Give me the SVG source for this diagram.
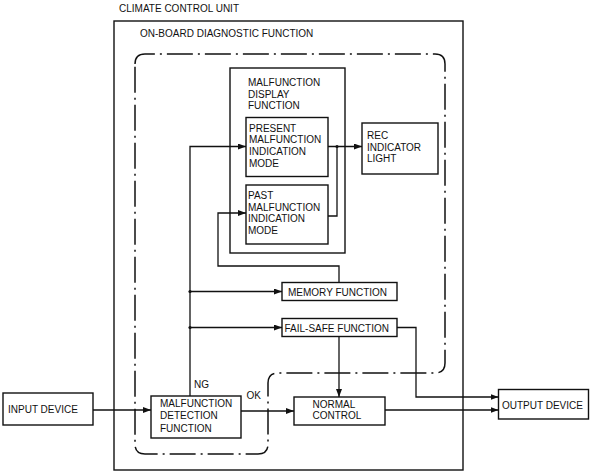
<svg xmlns="http://www.w3.org/2000/svg" width="591" height="474" viewBox="0 0 591 474">
<style>
text{font-family:"Liberation Sans",Arial,sans-serif;font-size:10px;fill:#111}
.box{fill:#fff;stroke:#111;stroke-width:1.4}
.ln{fill:none;stroke:#111;stroke-width:1.3}
.dd{fill:none;stroke:#111;stroke-width:1.5;stroke-dasharray:26 5 2 5}
</style>
<defs>
<marker id="ah" viewBox="0 0 8 6" refX="8" refY="3" markerWidth="8" markerHeight="6" markerUnits="userSpaceOnUse" orient="auto">
<path d="M0,0 L8,3 L0,6 Z" fill="#111"/>
</marker>
</defs>
<rect width="591" height="474" fill="#fff"/>
<g id="unit">
<rect class="box" x="114" y="21" width="349" height="449" fill="none"/>
<text x="119" y="12">CLIMATE CONTROL UNIT</text>
</g>
<g id="obd">
<text x="140" y="36.5">ON-BOARD DIAGNOSTIC FUNCTION</text>
<path class="dd" d="M135,64 Q135,54 145,54 H435 Q445,54 445,64 V363 Q445,373 435,373 H278 Q268,373 268,383 V444 Q268,454 258,454 H145 Q135,454 135,444 Z"/>
</g>
<g id="display">
<rect class="box" x="230" y="68" width="115" height="185"/>
<text x="248" y="86">MALFUNCTION</text>
<text x="248" y="97.7">DISPLAY</text>
<text x="248" y="109.4">FUNCTION</text>
</g>
<g id="present">
<rect class="box" x="246" y="117.5" width="82" height="59"/>
<text x="249" y="131.5">PRESENT</text>
<text x="249" y="143.2">MALFUNCTION</text>
<text x="249" y="154.9">INDICATION</text>
<text x="249" y="166.6">MODE</text>
</g>
<g id="past">
<rect class="box" x="246" y="185" width="82" height="59"/>
<text x="248" y="199">PAST</text>
<text x="248" y="210.7">MALFUNCTION</text>
<text x="248" y="222.4">INDICATION</text>
<text x="248" y="234.1">MODE</text>
</g>
<g id="rec">
<rect class="box" x="362" y="123" width="76" height="51"/>
<text x="367" y="139">REC</text>
<text x="367" y="150.7">INDICATOR</text>
<text x="367" y="162.4">LIGHT</text>
</g>
<g id="memory">
<rect class="box" x="282" y="282.5" width="115" height="18"/>
<text x="288" y="295.5">MEMORY FUNCTION</text>
</g>
<g id="failsafe">
<rect class="box" x="282" y="318.5" width="115" height="18"/>
<text x="284.5" y="331.5">FAIL-SAFE FUNCTION</text>
</g>
<g id="detection">
<rect class="box" x="151" y="396" width="90" height="42"/>
<text x="160" y="407.3">MALFUNCTION</text>
<text x="160" y="419.3">DETECTION</text>
<text x="160" y="431.5">FUNCTION</text>
</g>
<g id="normal">
<rect class="box" x="294" y="397" width="91" height="28"/>
<text x="312.5" y="407.5">NORMAL</text>
<text x="312.5" y="419.3">CONTROL</text>
</g>
<g id="input">
<rect class="box" x="3" y="393" width="90" height="32"/>
<text x="8" y="413">INPUT DEVICE</text>
</g>
<g id="output">
<rect class="box" x="498.5" y="389.5" width="90" height="29.5"/>
<text x="502" y="409">OUTPUT DEVICE</text>
</g>
<g id="connectors">
<path class="ln" d="M93,410 H151" marker-end="url(#ah)"/>
<path class="ln" d="M190,396 V146.5 H246" marker-end="url(#ah)"/>
<path class="ln" d="M190,291.5 H282" marker-end="url(#ah)"/>
<path class="ln" d="M190,327.5 H282" marker-end="url(#ah)"/>
<circle cx="190" cy="291.5" r="1.6" fill="#111"/>
<circle cx="190" cy="327.5" r="1.6" fill="#111"/>
<path class="ln" d="M339,282.5 V266 H218 V213 H246" marker-end="url(#ah)"/>
<path class="ln" d="M328,146.5 H362" marker-end="url(#ah)"/>
<path class="ln" d="M328,216 H337 V146.5"/>
<circle cx="337" cy="146.5" r="1.6" fill="#111"/>
<path class="ln" d="M339,336.5 V397" marker-end="url(#ah)"/>
<path class="ln" d="M241,411 H294" marker-end="url(#ah)"/>
<path class="ln" d="M397,327.5 H416 V397 H498.5" marker-end="url(#ah)"/>
<path class="ln" d="M385,410 H498.5" marker-end="url(#ah)"/>
<text x="194" y="388">NG</text>
<text x="246.5" y="398.5">OK</text>
</g>
</svg>
